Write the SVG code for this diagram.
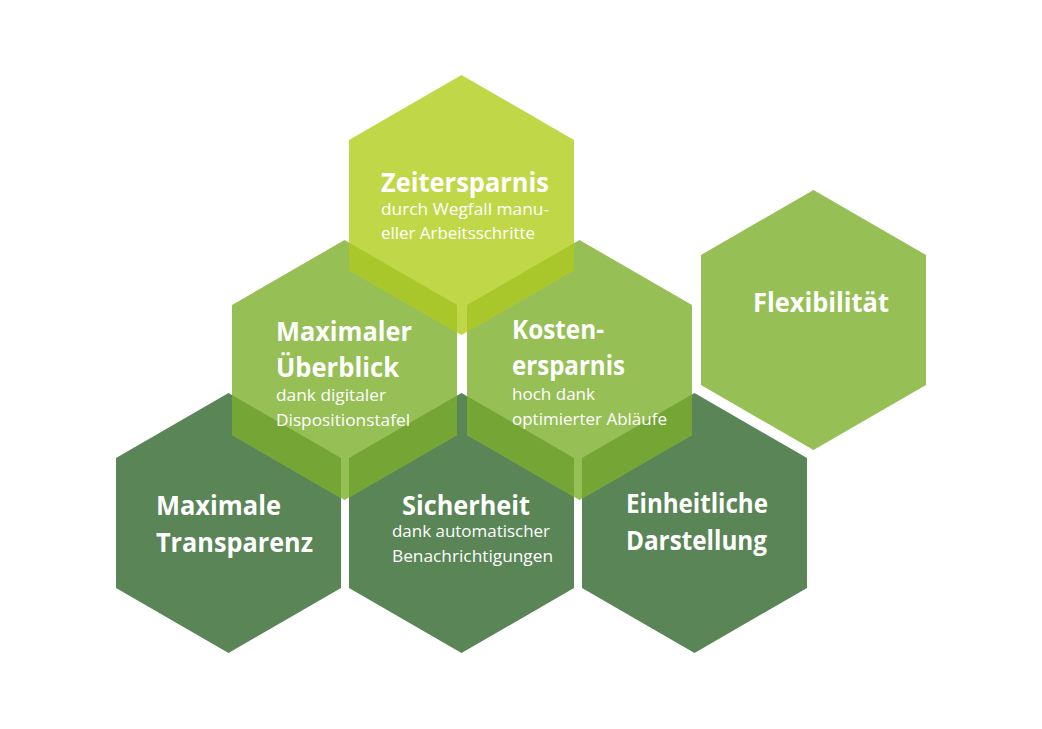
<svg xmlns="http://www.w3.org/2000/svg" width="1042" height="729" viewBox="0 0 1042 729">
<style>
.lime{fill:#c0d847}.mid{fill:#96bf56}.dark{fill:#5a8556}
.ov1{fill:#a9c62b}.ov2{fill:#74a535}
text{fill:#fff;font-family:"Open Sans","Liberation Sans",sans-serif}
.t{font-size:26px;font-weight:bold}
.s{font-size:16px}
</style>
<defs>
<polygon id="hZ" points="461.5,75 574,140 574,270 461.5,335 349,270 349,140"/>
<polygon id="hM" points="344.5,240 457,305 457,435 344.5,500 232,435 232,305"/>
<polygon id="hK" points="579.5,240 692,305 692,435 579.5,500 467,435 467,305"/>
<polygon id="hF" points="813.5,190 926,255 926,385 813.5,450 701,385 701,255"/>
<polygon id="hT" points="228.5,393 341,458 341,588 228.5,653 116,588 116,458"/>
<polygon id="hS" points="461.5,393 574,458 574,588 461.5,653 349,588 349,458"/>
<polygon id="hE" points="694.5,393 807,458 807,588 694.5,653 582,588 582,458"/>
<clipPath id="cMid"><use href="#hM"/><use href="#hK"/></clipPath>
<clipPath id="cDark"><use href="#hT"/><use href="#hS"/><use href="#hE"/></clipPath>
</defs>
<rect width="1042" height="729" fill="#fff"/>
<g id="transparenz"><use href="#hT" class="dark"/></g>
<g id="sicherheit-hex"><use href="#hS" class="dark"/></g>
<g id="einheitliche-hex"><use href="#hE" class="dark"/></g>
<g id="ueberblick-hex"><use href="#hM" class="mid"/></g>
<g id="kosten-hex"><use href="#hK" class="mid"/></g>
<g id="flex-hex"><use href="#hF" class="mid"/></g>
<g id="zeit-hex"><use href="#hZ" class="lime"/></g>
<g id="overlaps">
<use href="#hZ" class="ov1" clip-path="url(#cMid)"/>
<use href="#hM" class="ov2" clip-path="url(#cDark)"/>
<use href="#hK" class="ov2" clip-path="url(#cDark)"/>
</g>
<g id="zeitersparnis">
<text class="t" x="381" y="192" textLength="168" lengthAdjust="spacingAndGlyphs">Zeitersparnis</text>
<text class="s" x="381" y="215" textLength="168" lengthAdjust="spacingAndGlyphs">durch Wegfall manu-</text>
<text class="s" x="381" y="239" textLength="154" lengthAdjust="spacingAndGlyphs">eller Arbeitsschritte</text>
</g>
<g id="ueberblick">
<text class="t" x="276" y="341" textLength="136" lengthAdjust="spacingAndGlyphs">Maximaler</text>
<text class="t" x="276" y="377" textLength="123" lengthAdjust="spacingAndGlyphs">Überblick</text>
<text class="s" x="276" y="401" textLength="110" lengthAdjust="spacingAndGlyphs">dank digitaler</text>
<text class="s" x="276" y="426" textLength="134" lengthAdjust="spacingAndGlyphs">Dispositionstafel</text>
</g>
<g id="kosten">
<text class="t" x="512" y="339" textLength="92" lengthAdjust="spacingAndGlyphs">Kosten-</text>
<text class="t" x="512" y="375" textLength="113" lengthAdjust="spacingAndGlyphs">ersparnis</text>
<text class="s" x="512" y="400" textLength="83" lengthAdjust="spacingAndGlyphs">hoch dank</text>
<text class="s" x="512" y="425" textLength="155" lengthAdjust="spacingAndGlyphs">optimierter Abläufe</text>
</g>
<g id="flexibilitaet">
<text class="t" x="753" y="312" textLength="136" lengthAdjust="spacingAndGlyphs">Flexibilität</text>
</g>
<g id="transparenz-text">
<text class="t" x="156" y="515" textLength="125" lengthAdjust="spacingAndGlyphs">Maximale</text>
<text class="t" x="156" y="552" textLength="157" lengthAdjust="spacingAndGlyphs">Transparenz</text>
</g>
<g id="sicherheit">
<text class="t" x="402" y="515" textLength="128" lengthAdjust="spacingAndGlyphs">Sicherheit</text>
<text class="s" x="392" y="537" textLength="158" lengthAdjust="spacingAndGlyphs">dank automatischer</text>
<text class="s" x="392" y="562" textLength="161" lengthAdjust="spacingAndGlyphs">Benachrichtigungen</text>
</g>
<g id="einheitliche">
<text class="t" x="626" y="513" textLength="142" lengthAdjust="spacingAndGlyphs">Einheitliche</text>
<text class="t" x="626" y="550" textLength="141" lengthAdjust="spacingAndGlyphs">Darstellung</text>
</g>
<g id="connectors"/>
</svg>
